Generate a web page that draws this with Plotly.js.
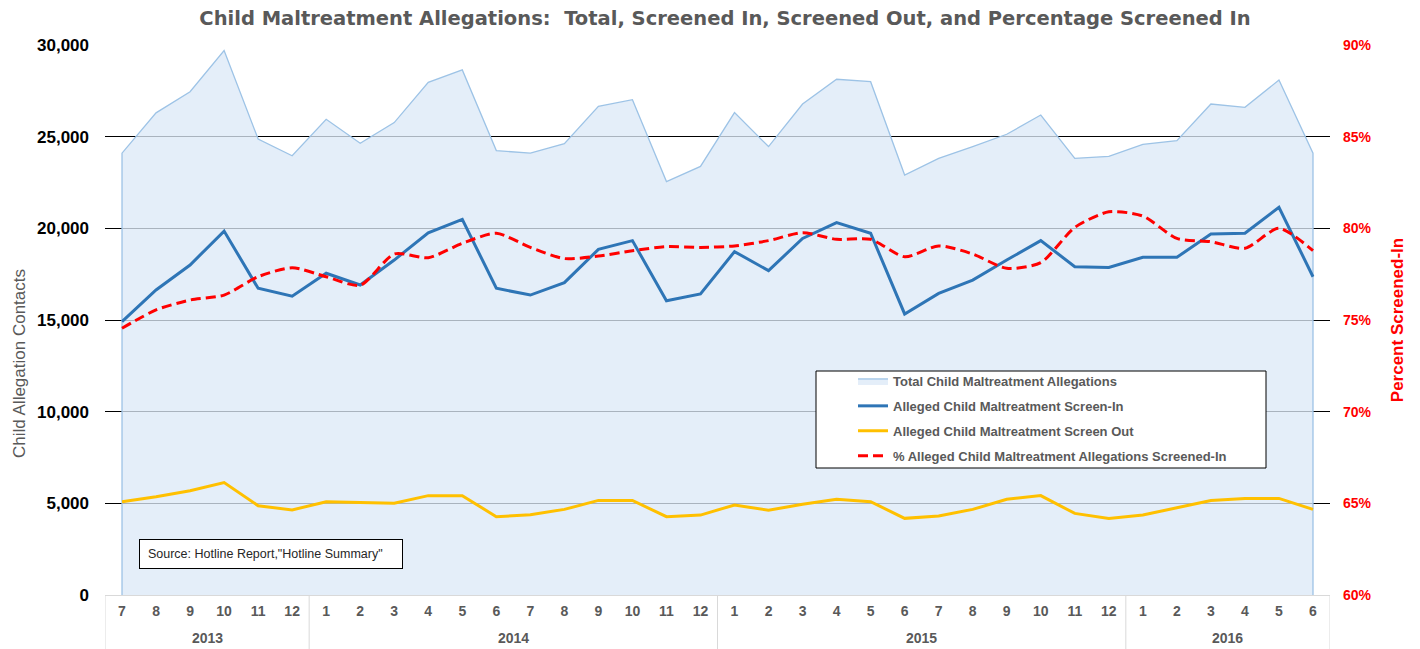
<!DOCTYPE html>
<html>
<head>
<meta charset="utf-8">
<script src="https://cdn.plot.ly/plotly-3.0.1.min.js"></script>
<style>
  html, body { margin: 0; padding: 0; background: #ffffff; }
  #chart { width: 1420px; height: 649px; }
</style>
</head>
<body>
<div id="chart"></div>
<script>
// ---- Data ----
const years = ['2013','2013','2013','2013','2013','2013',
  '2014','2014','2014','2014','2014','2014','2014','2014','2014','2014','2014','2014',
  '2015','2015','2015','2015','2015','2015','2015','2015','2015','2015','2015','2015',
  '2016','2016','2016','2016','2016','2016'];
const months = ['7','8','9','10','11','12',
  '1','2','3','4','5','6','7','8','9','10','11','12',
  '1','2','3','4','5','6','7','8','9','10','11','12',
  '1','2','3','4','5','6'];

const totalAllegations = [24100, 26300, 27450, 29700, 24870, 23960,
  25950, 24640, 25770, 27960, 28640, 24240, 24100, 24620, 26650, 27020, 22550, 23380,
  26310, 24460, 26780, 28130, 28000, 22910, 23820, 24460, 25130, 26180, 23820, 23930,
  24580, 24780, 26780, 26600, 28090, 24100];

const screenIn = [14910, 16640, 18000, 19850, 16730, 16300,
  17550, 16910, 18270, 19760, 20490, 16730, 16360, 17040, 18850, 19330, 16050, 16420,
  18730, 17690, 19450, 20310, 19730, 15330, 16450, 17180, 18270, 19330, 17910, 17870,
  18420, 18420, 19690, 19730, 21150, 17360];

const screenOut = [5090, 5360, 5690, 6130, 4870, 4640,
  5090, 5040, 5000, 5420, 5420, 4270, 4380, 4670, 5160, 5160, 4270, 4360,
  4910, 4620, 4950, 5220, 5090, 4180, 4310, 4670, 5220, 5420, 4450, 4180,
  4360, 4760, 5150, 5270, 5270, 4670];

const pctScreenedIn = [74.55, 75.55, 76.09, 76.36, 77.36, 77.85,
  77.36, 76.9, 78.6, 78.4, 79.18, 79.73, 78.96, 78.35, 78.49, 78.78, 79.0, 78.96,
  79.04, 79.33, 79.76, 79.4, 79.4, 78.45, 79.04, 78.6, 77.82, 78.13, 80.05, 80.9,
  80.67, 79.45, 79.27, 78.91, 80.0, 78.78];

const seriesNames = [
  'Total Child Maltreatment Allegations',
  'Alleged Child Maltreatment Screen-In',
  'Alleged Child Maltreatment Screen Out',
  '% Alleged Child Maltreatment Allegations Screened-In'
];
const sourceText = 'Source: Hotline Report,"Hotline Summary"';
const chartTitle = 'Child Maltreatment Allegations:  Total, Screened In, Screened Out, and Percentage Screened In';
const leftAxisTitle = 'Child Allegation Contacts';
const rightAxisTitle = 'Percent Screened-In';

// ---- Derived category keys (one unique key per month) ----
const keys = months.map((m, i) => years[i] + '-' + m);
const n = keys.length;

// Year groups: start/end index of each year, for dividers and group labels
const groups = [];
years.forEach((yr, i) => {
  if (!groups.length || groups[groups.length - 1].year !== yr) {
    groups.push({ year: yr, start: i, end: i });
  } else {
    groups[groups.length - 1].end = i;
  }
});

const FONT = 'Liberation Sans, Arial, sans-serif';
const PLOT_L = 105, PLOT_W = 1225, PLOT_T = 45, PLOT_H = 550;
const px2x = p => (p - PLOT_L) / PLOT_W;              // page px -> paper x
const px2y = p => (PLOT_T + PLOT_H - p) / PLOT_H;     // page px -> paper y

// ---- Traces ----
// Total allegations as a closed area (outline down to zero at both ends)
const areaX = [keys[0]].concat(keys, [keys[n - 1]]);
const areaY = [0].concat(totalAllegations, [0]);

const traces = [
  {
    type: 'scatter', mode: 'lines', name: seriesNames[0],
    x: areaX, y: areaY,
    fill: 'toself', fillcolor: 'rgba(220,233,247,0.77)',
    line: { color: '#9dc3e6', width: 1.3 },
    legendgroup: 'g1', hoverinfo: 'skip'
  },
  {
    type: 'scatter', mode: 'lines', name: seriesNames[1],
    x: keys, y: screenIn,
    line: { color: '#2e75b6', width: 3 },
    legendgroup: 'g2', hoverinfo: 'skip'
  },
  {
    type: 'scatter', mode: 'lines', name: seriesNames[2],
    x: keys, y: screenOut,
    line: { color: '#ffc000', width: 3 },
    legendgroup: 'g3', hoverinfo: 'skip'
  },
  {
    type: 'scatter', mode: 'lines', name: seriesNames[3],
    x: keys, y: pctScreenedIn, yaxis: 'y2',
    line: { color: '#ff0000', width: 3, dash: '10px,5px', shape: 'spline', smoothing: 0.7 },
    legendgroup: 'g4', hoverinfo: 'skip'
  }
];

// ---- Shapes: legend frame + category-table dividers ----
const shapes = [
  {
    type: 'rect', xref: 'paper', yref: 'paper', layer: 'above',
    x0: px2x(816), x1: px2x(1266),
    y0: px2y(468), y1: px2y(371),
    line: { color: '#000000', width: 1 }, fillcolor: '#ffffff'
  }
];
const dividerPositions = [groups[0].start - 0.5].concat(groups.map(g => g.end + 0.5));
dividerPositions.forEach(pos => {
  shapes.push({
    type: 'line', xref: 'x', yref: 'paper',
    x0: pos, x1: pos, y0: 0, y1: px2y(649),
    line: { color: '#d9d9d9', width: 1 }
  });
});

// ---- Annotations: year labels, left axis title, source box ----
const annotations = groups.map(g => ({
  xref: 'x', yref: 'paper',
  x: (g.start + g.end) / 2, y: px2y(638),
  xanchor: 'center', yanchor: 'middle',
  text: g.year, showarrow: false,
  font: { family: FONT, size: 14, color: '#595959', weight: 'bold' }
}));
annotations.push({
  xref: 'paper', yref: 'paper',
  x: px2x(19), y: px2y(364),
  xanchor: 'center', yanchor: 'middle',
  text: leftAxisTitle, textangle: -90, showarrow: false,
  font: { family: FONT, size: 17, color: '#595959' }
});
annotations.push({
  xref: 'paper', yref: 'paper',
  x: px2x(139), xanchor: 'left',
  y: px2y(539), yanchor: 'top',
  text: '\u00a0\u00a0' + sourceText,
  showarrow: false, align: 'left',
  width: 260, height: 26, borderpad: 1,
  bordercolor: '#000000', borderwidth: 1, bgcolor: '#ffffff',
  font: { family: FONT, size: 12.5, color: '#262626' }
});

// ---- Layout ----
const layout = {
  width: 1420, height: 649,
  margin: { l: PLOT_L, r: 1420 - PLOT_L - PLOT_W, t: PLOT_T, b: 649 - PLOT_T - PLOT_H },
  paper_bgcolor: '#ffffff',
  plot_bgcolor: '#ffffff',
  font: { family: FONT, color: '#595959' },
  title: {
    text: chartTitle,
    font: { family: 'DejaVu Sans, Liberation Sans, sans-serif', size: 19.5, color: '#595959', weight: 'bold' },
    x: 725 / 1420, xanchor: 'center',
    y: 1 - 18 / 649, yanchor: 'middle', xref: 'container', yref: 'container'
  },
  showlegend: true,
  legend: {
    x: px2x(853), xanchor: 'left',
    y: px2y(366), yanchor: 'top',
    bgcolor: 'rgba(0,0,0,0)', borderwidth: 0,
    font: { family: FONT, size: 13, color: '#595959', weight: 'bold' },
    tracegroupgap: 5, traceorder: 'grouped'
  },
  xaxis: {
    type: 'category',
    range: [-0.5, n - 0.5],
    tickvals: keys, ticktext: months,
    showgrid: false, zeroline: false,
    showline: true, linecolor: '#d9d9d9', linewidth: 1,
    tickfont: { family: FONT, size: 14, color: '#595959', weight: 'bold' },
    ticks: '', ticklabelstandoff: 3
  },
  yaxis: {
    range: [0, 30000], dtick: 5000, tickformat: ',d',
    showgrid: true, gridcolor: '#000000', gridwidth: 1,
    zeroline: false, showline: false, ticks: '',
    ticklabelstandoff: 15,
    tickfont: { family: FONT, size: 17, color: '#000000', weight: 'bold' }
  },
  yaxis2: {
    overlaying: 'y', side: 'right',
    range: [60, 90], dtick: 5, ticksuffix: '%',
    showgrid: false, zeroline: false, showline: false, ticks: '',
    ticklabelstandoff: 12,
    tickfont: { family: FONT, size: 14, color: '#ff0000', weight: 'bold' },
    title: {
      text: rightAxisTitle,
      font: { family: FONT, size: 17, color: '#ff0000', weight: 'bold' },
      standoff: 20
    }
  },
  shapes: shapes,
  annotations: annotations
};

Plotly.newPlot('chart', traces, layout, { displayModeBar: false, staticPlot: true });
</script>
</body>
</html>
